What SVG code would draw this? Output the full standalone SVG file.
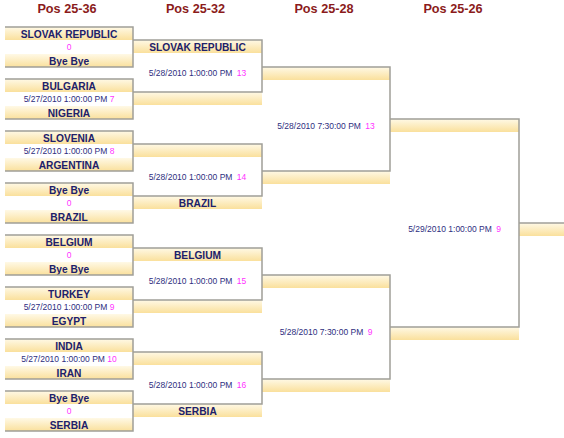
<svg xmlns="http://www.w3.org/2000/svg" width="564" height="438" viewBox="0 0 564 438">
<defs>
<linearGradient id="g" x1="0" y1="0" x2="0" y2="1">
<stop offset="0" stop-color="#fff9e6"/>
<stop offset="1" stop-color="#fae09c"/>
</linearGradient>
<style>
.bar{fill:url(#g)}
.ln{fill:none;stroke:#a09f98;stroke-width:1.5}
.h{font-family:"Liberation Sans",Arial,sans-serif;font-weight:bold;font-size:12.7px;fill:#8b1b1b;text-anchor:middle}
.t{font-family:"Liberation Sans",Arial,sans-serif;font-weight:bold;font-size:10.2px;fill:#20206a;text-anchor:middle}
.d{font-family:"Liberation Sans",Arial,sans-serif;font-size:8.5px;fill:#2e2e80;text-anchor:middle}
.n{fill:#ff33ff}
</style>
</defs>
<rect width="564" height="438" fill="#ffffff"/>
<g id="headers">
<text class="h" x="67" y="12.5">Pos 25-36</text>
<text class="h" x="195.5" y="12.5">Pos 25-32</text>
<text class="h" x="324" y="12.5">Pos 25-28</text>
<text class="h" x="453" y="12.5">Pos 25-26</text>
</g>
<!-- Round 1 -->
<g id="r1m1">
<rect class="bar" x="5" y="27" width="128" height="13"/><rect class="bar" x="5" y="54" width="128" height="13"/>
<text class="t" x="69" y="37.5">SLOVAK REPUBLIC</text><text class="d" x="69" y="50"><tspan class="n">0</tspan></text><text class="t" x="69" y="64.5">Bye Bye</text>
</g>
<g id="r1m2">
<rect class="bar" x="5" y="79" width="128" height="13"/><rect class="bar" x="5" y="106" width="128" height="13"/>
<text class="t" x="69" y="89.5">BULGARIA</text><text class="d" x="69" y="102">5/27/2010 1:00:00 PM <tspan class="n">7</tspan></text><text class="t" x="69" y="116.5">NIGERIA</text>
</g>
<g id="r1m3">
<rect class="bar" x="5" y="131" width="128" height="13"/><rect class="bar" x="5" y="158" width="128" height="13"/>
<text class="t" x="69" y="141.5">SLOVENIA</text><text class="d" x="69" y="154">5/27/2010 1:00:00 PM <tspan class="n">8</tspan></text><text class="t" x="69" y="168.5">ARGENTINA</text>
</g>
<g id="r1m4">
<rect class="bar" x="5" y="183" width="128" height="13"/><rect class="bar" x="5" y="210" width="128" height="13"/>
<text class="t" x="69" y="193.5">Bye Bye</text><text class="d" x="69" y="206"><tspan class="n">0</tspan></text><text class="t" x="69" y="220.5">BRAZIL</text>
</g>
<g id="r1m5">
<rect class="bar" x="5" y="235" width="128" height="13"/><rect class="bar" x="5" y="262" width="128" height="13"/>
<text class="t" x="69" y="245.5">BELGIUM</text><text class="d" x="69" y="258"><tspan class="n">0</tspan></text><text class="t" x="69" y="272.5">Bye Bye</text>
</g>
<g id="r1m6">
<rect class="bar" x="5" y="287" width="128" height="13"/><rect class="bar" x="5" y="314" width="128" height="13"/>
<text class="t" x="69" y="297.5">TURKEY</text><text class="d" x="69" y="310">5/27/2010 1:00:00 PM <tspan class="n">9</tspan></text><text class="t" x="69" y="324.5">EGYPT</text>
</g>
<g id="r1m7">
<rect class="bar" x="5" y="339" width="128" height="13"/><rect class="bar" x="5" y="366" width="128" height="13"/>
<text class="t" x="69" y="349.5">INDIA</text><text class="d" x="69" y="362">5/27/2010 1:00:00 PM <tspan class="n">10</tspan></text><text class="t" x="69" y="376.5">IRAN</text>
</g>
<g id="r1m8">
<rect class="bar" x="5" y="391" width="128" height="13"/><rect class="bar" x="5" y="418" width="128" height="13"/>
<text class="t" x="69" y="401.5">Bye Bye</text><text class="d" x="69" y="414"><tspan class="n">0</tspan></text><text class="t" x="69" y="428.5">SERBIA</text>
</g>
<!-- Round 2 -->
<g id="r2m1">
<rect class="bar" x="133" y="40" width="129" height="13"/><rect class="bar" x="133" y="92" width="129" height="13"/>
<text class="t" x="197.5" y="50.5">SLOVAK REPUBLIC</text><text class="d" x="197.5" y="76">5/28/2010 1:00:00 PM <tspan class="n" dx="2">13</tspan></text>
</g>
<g id="r2m2">
<rect class="bar" x="133" y="144" width="129" height="13"/><rect class="bar" x="133" y="196" width="129" height="13"/>
<text class="d" x="197.5" y="180">5/28/2010 1:00:00 PM <tspan class="n" dx="2">14</tspan></text><text class="t" x="197.5" y="206.5">BRAZIL</text>
</g>
<g id="r2m3">
<rect class="bar" x="133" y="248" width="129" height="13"/><rect class="bar" x="133" y="300" width="129" height="13"/>
<text class="t" x="197.5" y="258.5">BELGIUM</text><text class="d" x="197.5" y="284">5/28/2010 1:00:00 PM <tspan class="n" dx="2">15</tspan></text>
</g>
<g id="r2m4">
<rect class="bar" x="133" y="352" width="129" height="13"/><rect class="bar" x="133" y="404" width="129" height="13"/>
<text class="d" x="197.5" y="388">5/28/2010 1:00:00 PM <tspan class="n" dx="2">16</tspan></text><text class="t" x="197.5" y="414.5">SERBIA</text>
</g>
<!-- Round 3 -->
<g id="r3m1">
<rect class="bar" x="262" y="67" width="128" height="13"/><rect class="bar" x="262" y="171" width="128" height="13"/>
<text class="d" x="326" y="129">5/28/2010 7:30:00 PM <tspan class="n" dx="2">13</tspan></text>
</g>
<g id="r3m2">
<rect class="bar" x="262" y="275" width="128" height="13"/><rect class="bar" x="262" y="379" width="128" height="13"/>
<text class="d" x="326" y="335">5/28/2010 7:30:00 PM <tspan class="n" dx="2">9</tspan></text>
</g>
<!-- Round 4 -->
<g id="r4m1">
<rect class="bar" x="390" y="119" width="129" height="13"/><rect class="bar" x="390" y="327" width="129" height="13"/>
<text class="d" x="454.5" y="232">5/29/2010 1:00:00 PM <tspan class="n" dx="2">9</tspan></text>
</g>
<g id="final">
<rect class="bar" x="519" y="223" width="45" height="13"/>
</g>
<g id="connectors">
<path class="ln" d="M5 27H133V67H5M5 79H133V119H5M5 131H133V171H5M5 183H133V223H5M5 235H133V275H5M5 287H133V327H5M5 339H133V379H5M5 391H133V431H5"/>
<path class="ln" d="M133 40H262V92H133M133 144H262V196H133M133 248H262V300H133M133 352H262V404H133"/>
<path class="ln" d="M262 67H390V171H262M262 275H390V379H262"/>
<path class="ln" d="M390 119H519V327H390"/>
<path class="ln" d="M519 223H564"/>
</g>
</svg>
